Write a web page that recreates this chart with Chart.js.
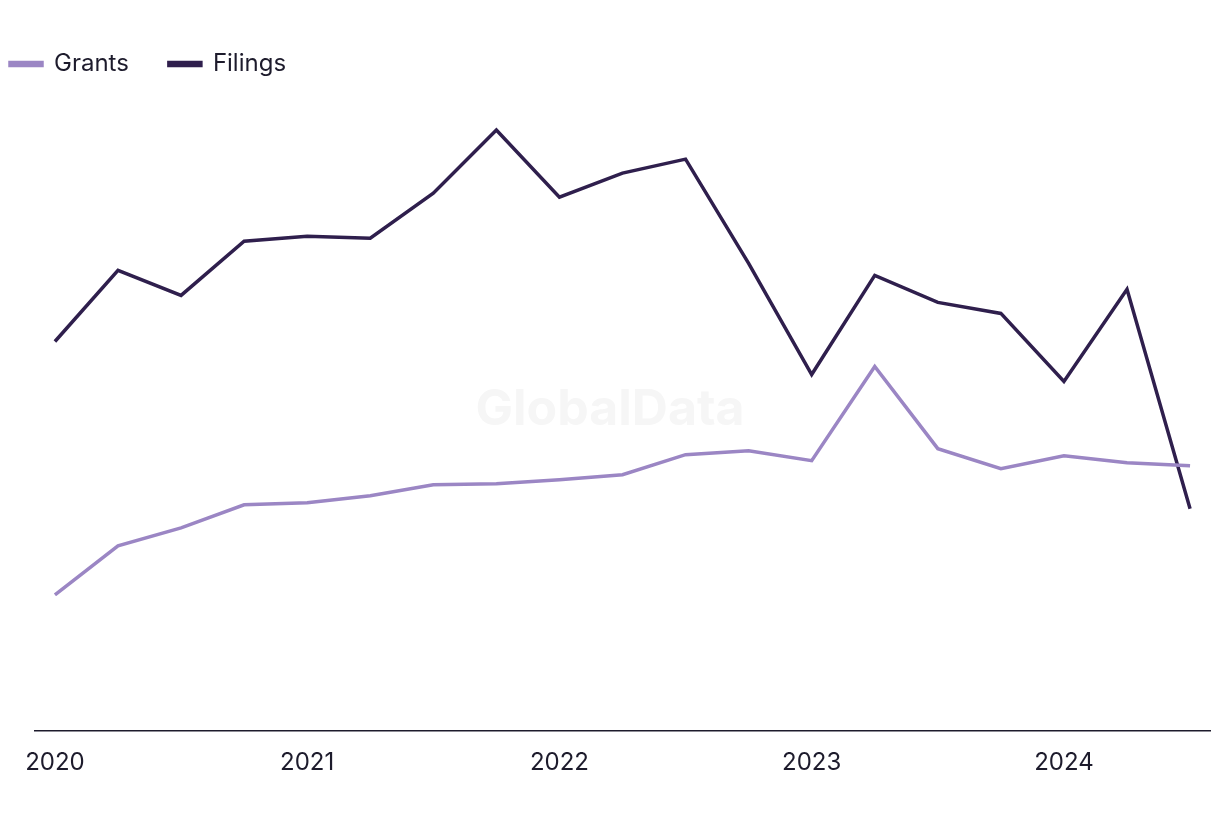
<!DOCTYPE html>
<html>
<head>
<meta charset="utf-8">
<script src="https://cdn.jsdelivr.net/npm/chart.js@4"></script>
<style>
  html, body { margin: 0; padding: 0; background: #fff; }
  #wrap { width: 1220px; height: 820px; }
</style>
</head>
<body>
<div id="wrap"><canvas id="chart"></canvas></div>
<script>
// quarters, expressed as fractional years (2020 Q1 .. 2024 Q3)
let quarters = [2020, 2020.25, 2020.5, 2020.75, 2021, 2021.25, 2021.5, 2021.75,
    2022, 2022.25, 2022.5, 2022.75, 2023, 2023.25, 2023.5, 2023.75,
    2024, 2024.25, 2024.5];
let yearTicks = [2020, 2021, 2022, 2023, 2024];

let grants = [136, 185, 203, 226, 228, 235, 246, 247, 251, 256, 276, 280,
    270, 364, 282, 262, 275, 268, 265];
let filings = [389, 460, 435, 489, 494, 492, 537, 600, 533, 557, 571, 467,
    356, 455, 428, 417, 349, 441, 222];

let textColor = "#1d1b2c";

function toPoints(values) {
    return values.map(function (v, i) {
        return {x: quarters[i], y: v};
    });
}

// faint watermark behind the lines
let watermark = {
    id: "watermark",
    beforeDatasetsDraw: function (chart) {
        let ctx = chart.ctx;
        ctx.save();
        ctx.font = "bold 50px Inter, 'Noto Sans', sans-serif";
        ctx.fillStyle = "#f6f6f6";
        ctx.textAlign = "center";
        ctx.textBaseline = "middle";
        ctx.fillText("GlobalData", 610, 410);
        ctx.restore();
    }
};

// the legend needs wide gaps between items but sits close to the left edge
let legendShift = {
    id: "legendShift",
    afterLayout: function (chart) {
        chart.legend.left -= 30;
    }
};

Chart.defaults.font.family = "Inter, 'Noto Sans', sans-serif";
Chart.defaults.color = textColor;

new Chart(document.getElementById("chart"), {
    type: "line",
    data: {
        datasets: [
            {
                label: "Grants",
                data: toPoints(grants),
                borderColor: "#9b86c4",
                backgroundColor: "#9b86c4",
                borderWidth: 3.5,
                pointRadius: 0,
                tension: 0
            },
            {
                label: "Filings",
                data: toPoints(filings),
                borderColor: "#2f1f4d",
                backgroundColor: "#2f1f4d",
                borderWidth: 3.5,
                pointRadius: 0,
                tension: 0
            }
        ]
    },
    options: {
        responsive: true,
        maintainAspectRatio: false,
        animation: false,
        layout: {padding: {left: 0, right: 10, top: 12, bottom: 26}},
        plugins: {
            legend: {
                align: "start",
                labels: {
                    boxWidth: 32,
                    boxHeight: 3,
                    padding: 40,
                    font: {size: 24}
                }
            },
            tooltip: {enabled: false}
        },
        scales: {
            x: {
                type: "linear",
                min: 2019.921,
                max: 2024.579,
                afterBuildTicks: function (scale) {
                    scale.ticks = yearTicks.map(function (y) { return {value: y}; });
                },
                ticks: {
                    font: {size: 24},
                    padding: 17,
                    maxRotation: 0,
                    callback: function (value) { return String(value); }
                },
                grid: {display: false, drawTicks: false},
                border: {display: true, color: "#1d1b2c", width: 1.5}
            },
            y: {
                min: 0,
                max: 644,
                ticks: {display: false},
                grid: {display: false, drawTicks: false},
                border: {display: false},
                afterFit: function (scale) { scale.width = 35; }
            }
        }
    },
    plugins: [watermark, legendShift]
});
</script>
</body>
</html>
